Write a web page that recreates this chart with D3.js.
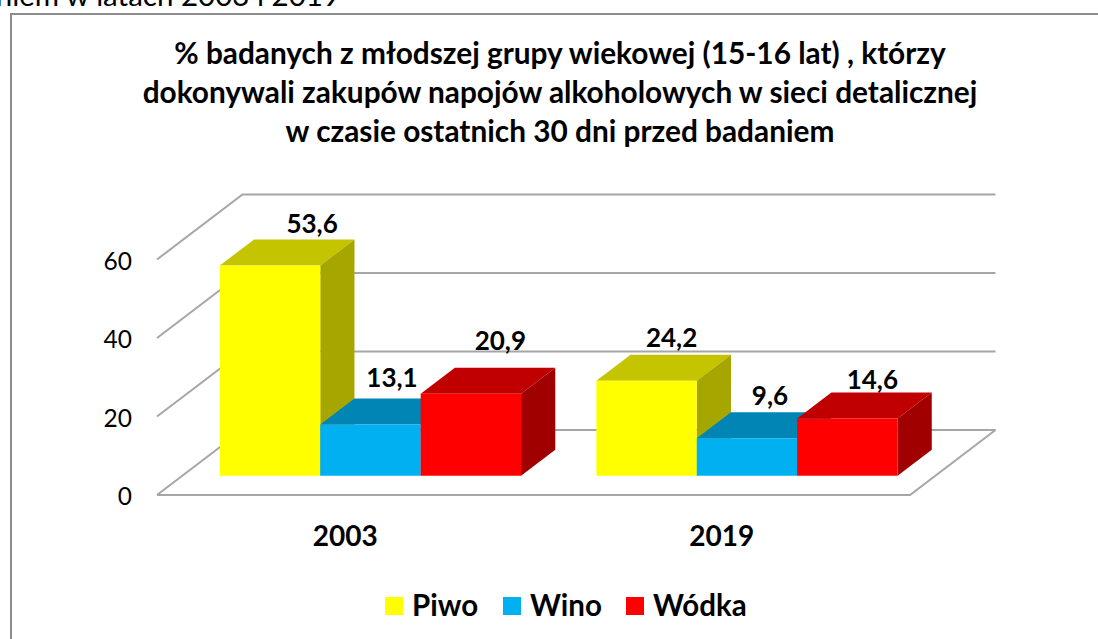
<!DOCTYPE html>
<html>
<head>
<meta charset="utf-8">
<script src="https://cdn.jsdelivr.net/npm/d3@7"></script>
<style>
  html, body { margin: 0; padding: 0; background: #fff; overflow: hidden; }
  text { font-family: Lato, "Open Sans", sans-serif; fill: #000; }
</style>
</head>
<body>
<svg id="chart" width="1098" height="639"></svg>
<script>
var categories = ["2003", "2019"];
var seriesNames = ["Piwo", "Wino", "Wódka"];
var piwo = [53.6, 24.2];
var wino = [13.1, 9.6];
var wodka = [20.9, 14.6];
var valueLabels = [["53,6", "24,2"], ["13,1", "9,6"], ["20,9", "14,6"]];
var yTicks = [0, 20, 40, 60];
var titleLines = [
  "% badanych z młodszej grupy wiekowej (15-16 lat) , którzy",
  "dokonywali zakupów napojów alkoholowych w sieci detalicznej",
  "w czasie ostatnich 30 dni przed badaniem"
];
var series = [piwo, wino, wodka];
var frontColors = ["#ffff00", "#00b0f0", "#ff0000"];
var topColors = ["#c4c400", "#0085b5", "#c00000"];
var sideColors = ["#a6a600", "#00719a", "#a00000"];

var svg = d3.select("#chart");

// depth of the floor in screen px, bars stand part way in
var DEPTH = { X: 85.5, Y: -65 };
var BAR_Z = 0.295, BAR_DEPTH = 0.4;

// hand placed labels in the original, [dx, dy] per series and category
var LABEL_NUDGE = [
  [[12, 2], [-5, 0.5]],
  [[-8.5, -3.5], [-7, 0.5]],
  [[-0.5, -10], [-5, 4]]
];

var y = d3.scaleLinear().domain([0, 60]).range([495, 259.5]);
var x0 = d3.scaleBand().domain(categories).range([157, 910]).paddingInner(0.2).paddingOuter(0.1);
var x1 = d3.scaleBand().domain(d3.range(3)).range([0, x0.bandwidth()]);

// oblique projection: x along the floor, v value, z 0..1 front to back
function px(xv, z) { return xv + DEPTH.X * z; }
function py(v, z) { return y(v) + DEPTH.Y * z; }
function poly(pts) { return pts.map(function(p) { return px(p[0], p[2]) + "," + py(p[1], p[2]); }).join(" "); }

var GRID = "#a6a6a6";
var xL = 157, xR = 910;

// outer frame, the page text above it is cut by the window
svg.append("rect")
  .attr("x", 11).attr("y", 14).attr("width", 1200).attr("height", 700)
  .attr("fill", "#fff").attr("stroke", "#8c8c8c").attr("stroke-width", 2);

svg.append("text").attr("x", 340).attr("y", 6).attr("text-anchor", "end").attr("font-size", 29.5)
  .text("badaniem w latach 2003 i 2019");

// title
svg.append("g").selectAll("text").data(titleLines).join("text")
  .attr("x", 560)
  .attr("y", function(d, i) { return 63.5 + i * 39; })
  .attr("text-anchor", "middle")
  .attr("font-size", 29.8)
  .attr("font-weight", 700)
  .text(function(d) { return d; });

// grid: wall lines and side diagonals
var grid = svg.append("g").attr("fill", "none").attr("stroke", GRID).attr("stroke-width", 2);
yTicks.forEach(function(t) {
  grid.append("polyline").attr("points", poly([[xL, t, 0], [xL, t, 1], [xR, t, 1]]));
});
grid.append("polyline").attr("points", poly([[xL, 0, 0], [xR, 0, 0], [xR, 0, 1]]));

// axis labels
svg.append("g").selectAll("text").data(yTicks).join("text")
  .attr("x", 132).attr("y", function(d) { return y(d) + 10; })
  .attr("text-anchor", "end").attr("font-size", 24.5)
  .text(function(d) { return d; });

svg.append("g").selectAll("text").data(categories).join("text")
  .attr("x", function(d) { return x0(d) + x0.bandwidth() / 2; })
  .attr("y", 546).attr("text-anchor", "middle").attr("font-size", 28).attr("font-weight", 700)
  .text(function(d) { return d; });

// bars
categories.forEach(function(c, ci) {
  series.forEach(function(vals, si) {
    var v = vals[ci];
    var a = x0(c) + x1(si), b = a + x1.bandwidth();
    var z0 = BAR_Z, z1 = BAR_Z + BAR_DEPTH;
    var g = svg.append("g");
    g.append("polygon").attr("fill", topColors[si])
      .attr("points", poly([[a, v, z0], [b, v, z0], [b, v, z1], [a, v, z1]]));
    g.append("polygon").attr("fill", sideColors[si])
      .attr("points", poly([[b, 0, z0], [b, v, z0], [b, v, z1], [b, 0, z1]]));
    g.append("polygon").attr("fill", frontColors[si])
      .attr("points", poly([[a, 0, z0], [b, 0, z0], [b, v, z0], [a, v, z0]]));
  });
});

// value labels go on top of everything
categories.forEach(function(c, ci) {
  series.forEach(function(vals, si) {
    var a = x0(c) + x1(si);
    var nudge = LABEL_NUDGE[si][ci];
    svg.append("text")
      .attr("x", px(a + x1.bandwidth() / 2, BAR_Z) + 30 + nudge[0])
      .attr("y", py(vals[ci], BAR_Z + BAR_DEPTH) - 8 + nudge[1])
      .attr("text-anchor", "middle").attr("font-size", 26).attr("font-weight", 700)
      .text(valueLabels[si][ci]);
  });
});

// legend
var legendX = [385, 503, 626];
var legend = svg.append("g").selectAll("g").data(seriesNames).join("g")
  .attr("transform", function(d, i) { return "translate(" + legendX[i] + ",597)"; });
legend.append("rect").attr("width", 18).attr("height", 18)
  .attr("fill", function(d, i) { return frontColors[i]; });
legend.append("text").attr("x", 27).attr("y", 19).attr("font-size", 29.5).attr("font-weight", 700)
  .text(function(d) { return d; });
</script>
</body>
</html>
